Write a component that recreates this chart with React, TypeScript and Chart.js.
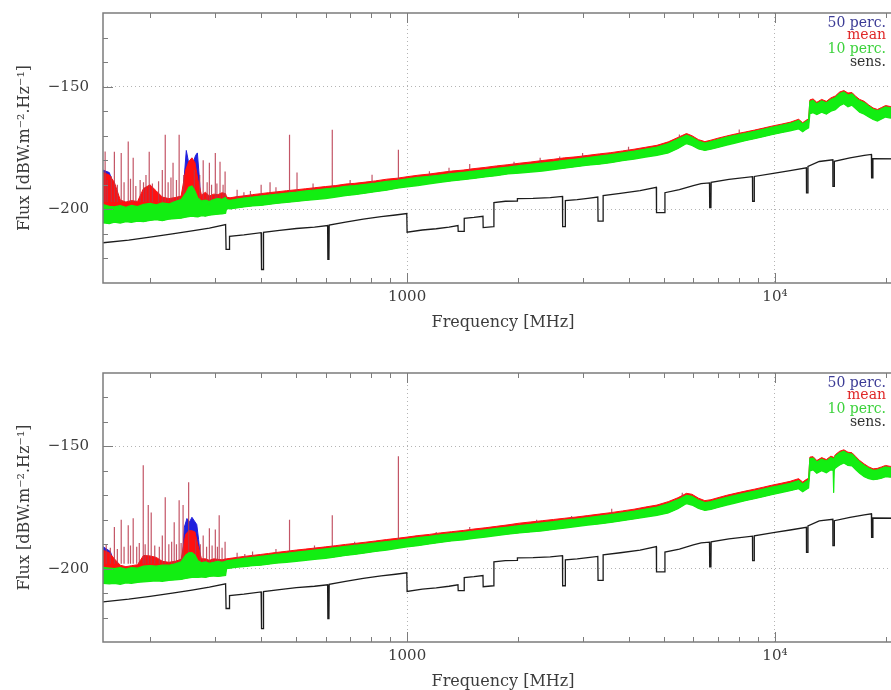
import React, { useEffect, useRef } from 'react';
import { Chart, registerables } from 'chart.js';

Chart.register(...registerables);

// ---------- axis / tick data ----------
const xMin = 149;
const xMax = 22300;
const yMin = -230;
const yMax = -120;
const xMajorTicks = [1000, 10000];
const xTickLabels = ['1000', '10\u2074'];
const xMinorTicks = [200, 300, 400, 500, 600, 700, 800, 900, 2000, 3000, 4000, 5000, 6000, 7000, 8000, 9000, 20000];
const yMajorTicks = [-150, -200];
const yTickLabels = ['\u2212150', '\u2212200'];
const yMinorTicks = [-130, -140, -160, -170, -180, -190, -210, -220];
const legendLabels = ['50 perc.', 'mean', '10 perc.', 'sens.'];
const legendColors = ['#3c3c96', '#e02828', '#3cd23c', '#333333'];

// ---------- sensitivity (both panels) ----------
const sensFreq = [149, 175, 200, 230, 260, 290, 321, 322, 328, 329, 360, 401, 402, 406, 407, 450, 500, 560, 608, 609, 613, 614, 680, 760, 850, 930, 998, 1000, 1100, 1200, 1300, 1375, 1377, 1428, 1430, 1520, 1608, 1610, 1720, 1722, 1850, 1990, 1995, 2200, 2450, 2645, 2648, 2690, 2693, 2900, 3100, 3300, 3305, 3410, 3412, 3800, 4300, 4760, 4766, 5020, 5024, 5500, 6000, 6300, 6640, 6650, 6700, 6710, 7500, 8690, 8698, 8780, 8790, 10000, 11000, 12180, 12190, 12290, 12300, 13200, 14370, 14380, 14500, 14510, 16000, 17500, 18300, 18320, 18460, 18470, 22300];
const sensVal = [-213.6, -212.5, -211.3, -210.0, -208.8, -207.6, -206.2, -216.3, -216.3, -211.0, -210.4, -209.5, -224.5, -224.5, -209.4, -208.6, -207.8, -207.2, -206.6, -220.4, -220.4, -206.4, -205.2, -204.0, -203.0, -202.3, -201.7, -209.3, -208.4, -207.9, -207.2, -206.6, -209.0, -209.0, -203.7, -203.3, -202.8, -207.4, -207.0, -197.2, -196.7, -196.6, -195.6, -195.5, -195.2, -194.7, -207.0, -207.0, -196.4, -196.0, -195.5, -195.0, -204.8, -204.8, -194.4, -193.5, -192.4, -191.0, -201.3, -201.3, -193.2, -192.0, -190.3, -189.5, -189.2, -199.3, -199.3, -189.0, -187.8, -186.7, -196.7, -196.7, -186.6, -185.2, -184.2, -183.1, -193.3, -193.3, -182.5, -180.5, -179.8, -190.6, -190.6, -180.4, -179.0, -178.0, -177.6, -187.2, -187.2, -179.3, -179.4];

// ---------- top panel ----------
const topFreq = [149, 155, 160, 166, 172, 178, 185, 192, 200, 208,
  216, 225, 234, 243, 250, 255, 260, 265, 270, 276,
  283, 290, 298, 306, 314, 321, 323, 330, 345, 360,
  380, 400, 420, 440, 470, 500, 530, 560, 600, 640,
  680, 720, 770, 820, 880, 940, 1000, 1070, 1150, 1230,
  1320, 1420, 1520, 1630, 1750, 1880, 2020, 2170, 2330, 2500,
  2680, 2880, 3100, 3330, 3580, 3850, 4140, 4450, 4780, 5130,
  5450, 5750, 5950, 6200, 6450, 6700, 7000, 7400, 7800, 8300,
  8800, 9300, 9800, 10400, 11000, 11600, 11900, 12100, 12350, 12450,
  12700, 13000, 13400, 13800, 14200, 14600, 15000, 15400, 15800, 16200,
  16600, 17000, 17500, 18000, 18500, 19000, 19500, 20000, 20600, 21200,
  22300];
const topGreenHi = [-198.0, -198.8, -199.0, -198.5, -199.2, -198.4, -198.9, -198.0, -197.6, -198.2,
  -197.4, -197.8, -196.8, -196.0, -193.5, -191.0, -190.5, -192.5, -195.5, -196.6,
  -196.2, -196.8, -196.0, -195.6, -195.9, -195.2, -196.0, -196.3, -195.8, -195.4,
  -195.0, -194.6, -194.2, -193.9, -193.4, -193.0, -192.5, -192.1, -191.6, -191.2,
  -190.6, -190.3, -189.8, -189.3, -188.6, -188.2, -187.6, -187.0, -186.5, -186.0,
  -185.4, -184.9, -184.4, -183.9, -183.3, -182.8, -182.2, -181.7, -181.1, -180.6,
  -180.0, -179.5, -178.9, -178.3, -177.7, -177.0, -176.3, -175.4, -174.6, -173.2,
  -171.4, -169.8, -170.6, -172.2, -173.0, -172.4, -171.6, -170.6, -169.8, -169.0,
  -168.2, -167.4, -166.6, -165.8, -165.0, -163.8, -165.2, -164.4, -163.6, -156.0,
  -155.6, -157.0, -155.8, -156.6, -155.2, -154.4, -152.8, -152.2, -153.4, -153.0,
  -154.6, -155.8, -156.6, -158.0, -159.2, -159.8, -159.0, -158.2, -158.6, -157.8,
  -157.2];
const topGreenLo = [-205.5, -205.8, -205.2, -205.6, -205.0, -205.3, -204.8, -205.0, -204.5, -204.2,
  -204.6, -204.0, -203.8, -203.6, -203.2, -203.0, -202.8, -203.0, -203.1, -202.6,
  -202.8, -202.4, -202.2, -202.0, -201.8, -201.6, -199.6, -199.8, -199.4, -199.0,
  -198.6, -198.4, -198.0, -197.6, -197.2, -196.8, -196.4, -196.0, -195.6, -195.0,
  -194.4, -194.0, -193.4, -192.8, -192.2, -191.4, -190.8, -190.3, -189.6, -189.0,
  -188.4, -187.9, -187.4, -186.8, -186.3, -185.6, -185.2, -184.8, -184.4, -183.8,
  -183.2, -182.6, -182.0, -181.6, -181.0, -180.2, -179.5, -178.7, -178.0, -177.0,
  -175.2, -173.2, -174.0, -175.4, -176.0, -175.5, -174.8, -173.8, -173.0, -172.0,
  -171.2, -170.4, -169.6, -168.8, -168.0, -167.2, -168.4, -167.6, -166.8, -161.0,
  -160.6, -161.4, -160.4, -161.2, -160.0, -159.4, -157.8, -157.0, -158.2, -157.6,
  -159.0, -160.4, -161.2, -162.4, -163.4, -164.0, -163.2, -162.4, -162.8, -162.0,
  -161.6];
const topMeanHi = [-185.0, -186.0, -189.0, -196.2, -197.0, -196.4, -196.8, -191.5, -190.0, -192.5,
  -195.0, -195.6, -195.2, -194.6, -184.0, -180.5, -179.0, -181.0, -188.0, -194.2,
  -193.0, -194.6, -193.8, -194.0, -193.2, -193.6, -195.0, -195.3, -194.8, -194.5,
  -194.0, -193.6, -193.2, -192.9, -192.4, -192.0, -191.6, -191.2, -190.7, -190.3,
  -189.7, -189.4, -188.9, -188.4, -187.7, -187.3, -186.7, -186.1, -185.6, -185.0,
  -184.4, -184.0, -183.4, -182.9, -182.3, -181.8, -181.2, -180.7, -180.1, -179.6,
  -179.0, -178.6, -178.0, -177.4, -176.9, -176.2, -175.5, -174.7, -173.9, -172.5,
  -170.7, -169.1, -170.0, -171.6, -172.4, -171.8, -171.0, -170.1, -169.3, -168.5,
  -167.7, -166.9, -166.1, -165.3, -164.5, -163.3, -164.7, -163.9, -163.1, -155.4,
  -155.0, -156.4, -155.2, -156.0, -154.6, -153.8, -152.2, -151.6, -152.6, -152.4,
  -154.0, -155.2, -156.0, -157.5, -158.7, -159.3, -158.5, -157.7, -158.1, -157.3,
  -156.7];
const topBlueFreq = [149, 155, 160, 166, 244, 248, 251, 254, 258, 262, 266, 269, 272, 276];
const topBlueHi = [-184.0, -185.0, -191.0, -200.0, -200.0, -186.0, -176.0, -180.0, -183.0, -181.0, -178.0, -177.0, -186.0, -200.0];
const topSpikeFreq = [151, 153, 157, 160, 163, 167, 170, 174.5, 177, 180, 183, 188, 192, 195, 199, 203, 211, 216, 220, 224, 228, 231, 236, 240, 247, 264, 273, 279, 286, 290, 294, 301, 304, 310, 316, 320,
  345, 360, 375, 401, 424, 440, 479, 502, 555, 626, 700, 803, 947, 1150, 1300, 1480, 1953, 2300, 2600, 3000, 4000, 5500, 8000];
const topSpikePeak = [-176.4, -188.0, -186.5, -176.5, -190.0, -177.0, -189.0, -172.4, -187.5, -179.0, -190.5, -188.0, -189.0, -186.0, -176.5, -189.5, -188.5, -184.0, -169.6, -189.0, -187.0, -181.0, -188.0, -169.6, -186.0, -184.0, -186.0, -180.0, -189.0, -181.0, -190.0, -177.0, -189.5, -180.6, -190.0, -184.6,
  -192.0, -193.0, -192.5, -190.0, -189.0, -191.0, -169.6, -185.0, -189.5, -167.6, -188.0, -185.9, -175.7, -184.5, -183.0, -181.5, -180.6, -179.0, -178.5, -177.0, -174.5, -169.5, -167.5];
const topSpikeBase = [-197, -197, -197, -197, -197, -197, -197, -197, -197, -197, -197, -197, -197, -197, -197, -197, -197, -197, -197, -197, -197, -197, -197, -197, -197, -197, -197, -197, -197, -197, -197, -197, -197, -197, -197, -197,
  -196, -196, -196, -196, -196, -195, -195, -195, -194, -193, -192, -191, -190, -188, -187, -186, -184, -183, -182, -181, -178, -173, -171];

// ---------- bottom panel ----------
const botFreq = [149, 155, 160, 166, 172, 178, 185, 192, 200, 208,
  216, 225, 234, 243, 250, 255, 260, 265, 270, 276,
  283, 290, 298, 306, 314, 321, 323, 330, 345, 360,
  380, 400, 420, 440, 470, 500, 530, 560, 600, 640,
  680, 720, 770, 820, 880, 940, 1000, 1070, 1150, 1230,
  1320, 1420, 1520, 1630, 1750, 1880, 2020, 2170, 2330, 2500,
  2680, 2880, 3100, 3330, 3580, 3850, 4140, 4450, 4780, 5130,
  5450, 5750, 5950, 6200, 6450, 6700, 7000, 7400, 7800, 8300,
  8800, 9300, 9800, 10400, 11000, 11600, 11900, 12100, 12350, 12450,
  12700, 13000, 13400, 13800, 14200, 14400, 14450, 14500,
  14600, 15000, 15400, 15800, 16200, 16600, 17000, 17500, 18000, 18500,
  19000, 19500, 20000, 20600, 21200, 22300];
const botGreenHi = [-199.5, -199.8, -200.0, -199.6, -200.2, -199.6, -199.8, -199.0, -198.8, -199.0,
  -198.6, -198.6, -198.0, -197.2, -194.5, -193.5, -193.4, -194.5, -196.8, -197.6,
  -197.2, -197.8, -197.4, -197.0, -197.4, -197.0, -196.8, -196.6, -196.2, -195.8,
  -195.4, -195.0, -194.6, -194.2, -193.7, -193.2, -192.8, -192.4, -191.9, -191.4,
  -190.9, -190.5, -190.0, -189.5, -188.9, -188.4, -187.9, -187.3, -186.8, -186.2,
  -185.7, -185.2, -184.6, -184.1, -183.5, -183.0, -182.4, -181.9, -181.3, -180.8,
  -180.2, -179.7, -179.1, -178.5, -177.9, -177.2, -176.5, -175.6, -174.8, -173.4,
  -171.8, -170.0, -170.4, -172.0, -173.0, -172.6, -171.8, -170.8, -170.0, -169.1,
  -168.3, -167.5, -166.7, -165.9, -165.1, -164.0, -165.4, -164.6, -163.8, -155.0,
  -154.8, -156.4, -155.2, -156.0, -154.6, -155.0, -160.0, -154.8,
  -154.0, -152.6, -152.0, -153.0, -153.2, -154.8, -156.4, -157.8, -159.0, -159.8,
  -159.6, -159.0, -158.4, -158.8, -158.0, -157.4];
const botGreenLo = [-206.0, -206.2, -206.0, -206.4, -205.8, -206.0, -205.6, -205.4, -205.2, -205.0,
  -205.2, -204.8, -204.6, -204.4, -204.0, -203.8, -203.6, -203.6, -203.6, -203.4,
  -203.6, -203.2, -203.0, -203.2, -203.0, -202.8, -200.0, -199.8, -199.4, -199.2,
  -198.8, -198.6, -198.2, -197.8, -197.4, -197.0, -196.6, -196.2, -195.8, -195.2,
  -194.6, -194.2, -193.6, -193.0, -192.4, -191.7, -191.1, -190.6, -189.9, -189.3,
  -188.7, -188.2, -187.6, -187.1, -186.5, -185.9, -185.4, -185.0, -184.6, -184.0,
  -183.4, -182.8, -182.2, -181.7, -181.1, -180.4, -179.7, -178.9, -178.2, -177.2,
  -175.5, -173.4, -174.0, -175.4, -176.2, -175.8, -175.0, -174.0, -173.2, -172.2,
  -171.4, -170.6, -169.8, -168.9, -168.1, -167.3, -168.6, -167.8, -167.0, -160.0,
  -159.6, -161.0, -160.0, -160.8, -159.6, -159.8, -169.0, -159.6,
  -158.8, -157.6, -156.8, -157.8, -158.0, -159.6, -161.0, -162.4, -163.2, -163.6,
  -163.4, -163.0, -162.4, -162.6, -162.0, -161.6];
const botMeanHi = [-192.5, -193.5, -196.0, -198.6, -199.2, -198.8, -198.4, -194.6, -194.8, -195.4,
  -197.0, -197.4, -197.0, -196.2, -186.0, -184.5, -184.5, -185.0, -190.5, -196.0,
  -196.0, -196.6, -196.0, -196.2, -196.4, -196.0, -196.0, -195.8, -195.4, -195.0,
  -194.6, -194.2, -193.8, -193.4, -192.9, -192.4, -192.0, -191.6, -191.1, -190.6,
  -190.1, -189.7, -189.2, -188.7, -188.1, -187.6, -187.1, -186.5, -186.0, -185.4,
  -184.9, -184.4, -183.8, -183.3, -182.7, -182.1, -181.4, -180.9, -180.4, -179.9,
  -179.4, -178.9, -178.3, -177.7, -177.1, -176.4, -175.7, -174.8, -174.0, -172.6,
  -171.0, -169.2, -169.6, -171.2, -172.2, -171.8, -171.0, -170.0, -169.2, -168.3,
  -167.5, -166.7, -165.9, -165.1, -164.3, -163.2, -164.6, -163.8, -163.0, -154.4,
  -154.2, -155.8, -154.6, -155.4, -154.0, -154.4, -159.5, -154.2,
  -153.4, -152.0, -151.4, -152.4, -152.6, -154.2, -155.8, -157.2, -158.4, -159.2,
  -159.0, -158.4, -157.8, -158.2, -157.4, -156.8];
const botBlueFreq = [149, 156, 162, 244, 248, 252, 256, 260, 264, 268, 271, 276];
const botBlueHi = [-191.0, -193.0, -200.0, -200.0, -183.0, -179.5, -181.0, -179.0, -180.5, -182.0, -188.0, -200.0];
const botSpikeFreq = [152, 156, 160, 163, 167, 170, 174.5, 177, 180, 184, 187, 191.7, 194, 197.8, 201.5, 206, 212, 216, 220, 225, 229, 232.7, 236, 240, 243, 246, 254.7, 266, 274, 279, 285, 290, 295, 301, 305, 308.4, 314, 320,
  345, 362, 380, 440, 479, 560, 626, 720, 947, 1200, 1480, 1960, 2250, 2800, 3600, 5600];
const botSpikePeak = [-190.0, -191.5, -183.0, -192.0, -180.0, -191.0, -182.3, -190.5, -179.4, -191.0, -189.5, -157.7, -190.0, -174.0, -177.0, -190.5, -191.0, -186.4, -170.8, -190.0, -189.0, -181.0, -190.0, -172.0, -189.5, -174.0, -164.7, -188.0, -190.0, -186.4, -191.0, -183.5, -190.5, -184.0, -191.0, -178.2, -191.5, -189.0,
  -193.5, -194.0, -193.0, -192.0, -180.0, -190.5, -178.2, -189.0, -154.0, -185.0, -183.0, -182.0, -180.0, -178.5, -175.5, -169.0];
const botSpikeBase = [-198, -198, -198, -198, -198, -198, -198, -198, -198, -198, -198, -198, -198, -198, -198, -198, -198, -198, -198, -198, -198, -198, -198, -198, -198, -198, -198, -198, -198, -198, -198, -198, -198, -198, -198, -198, -198, -198,
  -197, -197, -197, -196, -195.5, -195, -193.5, -192, -190, -189, -187, -185, -184, -182, -180, -174];

// ---------- helpers ----------
const pts = (xs: number[], ys: number[]) => xs.map((x, i) => ({ x, y: ys[i] }));
const spikePts = (xs: number[], base: number[], peak: number[]) =>
  xs.flatMap((x, i) => [{ x, y: base[i] }, { x, y: peak[i] }, { x, y: null as any }]);

const GREEN = '#12ee12';
const RED = '#ff1010';
const BLUE = '#2020dd';
const FONT = '"DejaVu Serif", "Liberation Serif", serif';

const decorPlugin = {
  id: 'decor',
  afterDatasetsDraw(chart: any) {
    const { ctx, chartArea: a, scales } = chart;
    const xs = scales.x;
    const ys = scales.y;
    ctx.save();
    ctx.strokeStyle = '#7c7c7c';
    ctx.lineWidth = 1;
    ctx.beginPath();
    for (const v of xMinorTicks) {
      const p = Math.round(xs.getPixelForValue(v)) + 0.5;
      ctx.moveTo(p, a.bottom); ctx.lineTo(p, a.bottom - 5);
      ctx.moveTo(p, a.top); ctx.lineTo(p, a.top + 5);
    }
    for (const v of xMajorTicks) {
      const p = Math.round(xs.getPixelForValue(v)) + 0.5;
      ctx.moveTo(p, a.bottom); ctx.lineTo(p, a.bottom - 10);
      ctx.moveTo(p, a.top); ctx.lineTo(p, a.top + 10);
    }
    for (const v of yMinorTicks) {
      const p = Math.round(ys.getPixelForValue(v)) + 0.5;
      ctx.moveTo(a.left, p); ctx.lineTo(a.left + 5, p);
    }
    for (const v of yMajorTicks) {
      const p = Math.round(ys.getPixelForValue(v)) + 0.5;
      ctx.moveTo(a.left, p); ctx.lineTo(a.left + 10, p);
    }
    ctx.stroke();
    ctx.lineWidth = 1.5;
    ctx.beginPath();
    ctx.moveTo(a.right + 4, a.top);
    ctx.lineTo(a.left, a.top);
    ctx.lineTo(a.left, a.bottom);
    ctx.lineTo(a.right + 4, a.bottom);
    ctx.stroke();
    // legend text
    ctx.font = `14px ${FONT}`;
    ctx.textAlign = 'right';
    ctx.textBaseline = 'middle';
    const offs = [10, 22.5, 36, 49.5];
    legendLabels.forEach((t, i) => {
      ctx.fillStyle = legendColors[i];
      ctx.fillText(t, a.right - 17, a.top + offs[i]);
    });
    ctx.restore();
  },
};

type PanelData = {
  freq: number[]; greenHi: number[]; greenLo: number[]; meanHi: number[];
  blueFreq: number[]; blueHi: number[];
  spikeFreq: number[]; spikeBase: number[]; spikePeak: number[];
};

function buildConfig(d: PanelData, padTop: number, xAxisH: number, titlePad: number, titleLH: number) {
  return {
    type: 'line' as const,
    data: {
      datasets: [
        {
          data: pts(d.blueFreq, d.blueHi), borderColor: BLUE, backgroundColor: BLUE,
          borderWidth: 1, pointRadius: 0, fill: { value: -200 }, order: 5,
        },
        {
          data: pts(d.freq, d.meanHi), borderColor: RED, backgroundColor: RED,
          borderWidth: 1, pointRadius: 0, fill: 3, order: 4,
        },
        {
          data: pts(d.freq, d.greenHi), borderColor: GREEN, backgroundColor: GREEN,
          borderWidth: 1.2, pointRadius: 0, fill: 3, order: 2,
        },
        {
          data: pts(d.freq, d.greenLo), borderColor: GREEN, backgroundColor: GREEN,
          borderWidth: 1.2, pointRadius: 0, fill: false, order: 2,
        },
        {
          data: spikePts(d.spikeFreq, d.spikeBase, d.spikePeak), borderColor: 'rgba(185,55,75,0.85)',
          borderWidth: 1.2, pointRadius: 0, fill: false, spanGaps: false, order: 3,
        },
        {
          data: pts(sensFreq, sensVal), borderColor: '#1c1c1c', backgroundColor: '#1c1c1c',
          borderWidth: 1.3, pointRadius: 0, fill: false, order: 1,
        },
      ],
    },
    options: {
      responsive: false,
      animation: false,
      devicePixelRatio: 1,
      events: [],
      layout: { padding: { top: padTop, right: 2, left: 0, bottom: 0 } },
      elements: { line: { tension: 0 } },
      plugins: { legend: { display: false }, tooltip: { enabled: false } },
      scales: {
        x: {
          type: 'logarithmic' as const,
          min: xMin, max: xMax,
          afterBuildTicks: (s: any) => { s.ticks = xMajorTicks.map((v) => ({ value: v })); },
          afterFit: (s: any) => { s.height = xAxisH; s.paddingLeft = 0; s.paddingRight = 0; },
          ticks: {
            autoSkip: false, maxRotation: 0, padding: 5, color: '#3c3c3c',
            font: { family: FONT, size: 15 },
            callback: (v: any) => xTickLabels[xMajorTicks.indexOf(Number(v))] ?? '',
          },
          grid: { color: '#b4b4b4', lineWidth: 1, drawTicks: false },
          border: { display: false, dash: [1, 3] },
          title: {
            display: true, text: 'Frequency [MHz]', color: '#3c3c3c',
            font: { family: FONT, size: 16, lineHeight: titleLH }, padding: { top: 0, bottom: titlePad },
          },
        },
        y: {
          type: 'linear' as const,
          min: yMin, max: yMax,
          afterBuildTicks: (s: any) => { s.ticks = yMajorTicks.map((v) => ({ value: v })); },
          afterFit: (s: any) => { s.width = 103; s.paddingTop = 0; s.paddingBottom = 0; },
          ticks: {
            padding: 14, color: '#3c3c3c', font: { family: FONT, size: 15 },
            callback: (v: any) => yTickLabels[yMajorTicks.indexOf(Number(v))] ?? '',
          },
          grid: { color: '#b4b4b4', lineWidth: 1, drawTicks: false },
          border: { display: false, dash: [1, 3] },
          title: {
            display: true, text: 'Flux [dBW.m\u207B\u00B2.Hz\u207B\u00B9]', color: '#3c3c3c',
            font: { family: FONT, size: 16, lineHeight: 1.2 }, padding: { top: 15, bottom: 0 },
          },
        },
      },
    },
    plugins: [decorPlugin],
  };
}

const topData: PanelData = {
  freq: topFreq, greenHi: topGreenHi, greenLo: topGreenLo, meanHi: topMeanHi,
  blueFreq: topBlueFreq, blueHi: topBlueHi,
  spikeFreq: topSpikeFreq, spikeBase: topSpikeBase, spikePeak: topSpikePeak,
};
const botData: PanelData = {
  freq: botFreq, greenHi: botGreenHi, greenLo: botGreenLo, meanHi: botMeanHi,
  blueFreq: botBlueFreq, blueHi: botBlueHi,
  spikeFreq: botSpikeFreq, spikeBase: botSpikeBase, spikePeak: botSpikePeak,
};

function Panel({ data, top, padTop, xAxisH, titlePad, titleLH }: any) {
  const ref = useRef<HTMLCanvasElement | null>(null);
  useEffect(() => {
    if (!ref.current) return;
    const chart = new Chart(ref.current, buildConfig(data, padTop, xAxisH, titlePad, titleLH) as any);
    return () => chart.destroy();
  }, []);
  return (
    <canvas
      ref={ref}
      width={905}
      height={345}
      style={{ position: 'absolute', left: 0, top, width: 905, height: 345, display: 'block' }}
    />
  );
}

export default function App() {
  return (
    <div style={{ position: 'fixed', left: 0, top: 0, width: 891, height: 690, overflow: 'hidden', background: '#fff' }}>
      <Panel data={topData} top={0} padTop={13} xAxisH={62} titlePad={13} titleLH={1.2} />
      <Panel data={botData} top={345} padTop={28} xAxisH={48} titlePad={0} titleLH={1} />
    </div>
  );
}
